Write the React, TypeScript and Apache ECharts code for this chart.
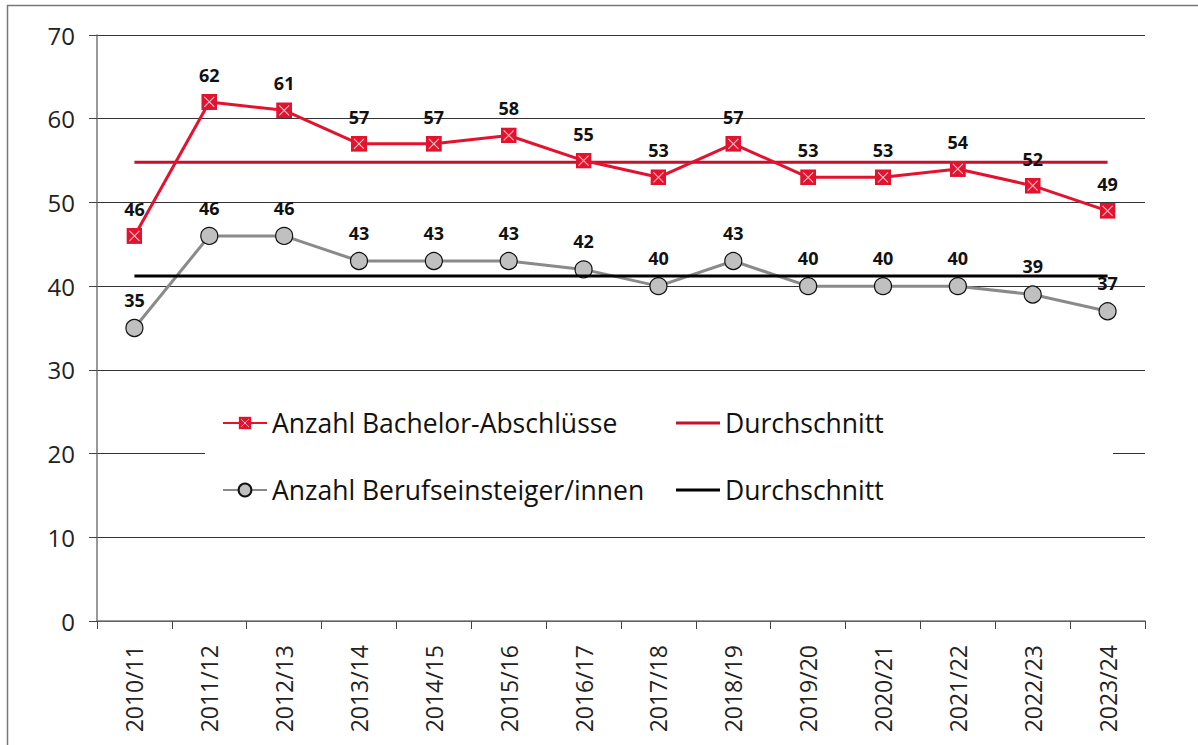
import React, { useEffect, useRef } from "react";
import * as echarts from "echarts";

// Academic years on the x axis
const years = [
  "2010/11", "2011/12", "2012/13", "2013/14", "2014/15", "2015/16", "2016/17",
  "2017/18", "2018/19", "2019/20", "2020/21", "2021/22", "2022/23", "2023/24",
];

// Number of bachelor degrees per year
const bachelor = [46, 62, 61, 57, 57, 58, 55, 53, 57, 53, 53, 54, 52, 49];

// Number of career starters per year
const starters = [35, 46, 46, 43, 43, 43, 42, 40, 43, 40, 40, 40, 39, 37];

const yTicks = { min: 0, max: 70, interval: 10 };

const mean = (a: number[]) => a.reduce((s, v) => s + v, 0) / a.length;
const bachelorAvg = mean(bachelor);
const startersAvg = mean(starters);

const RED = "#e3132f";
const RED_DARK = "#c4122d";
const FONT = "'Open Sans', 'Noto Sans', sans-serif";

// red square with a light cross, used as the marker of the bachelor series
const crossSquareSvg =
  "<svg xmlns='http://www.w3.org/2000/svg' width='32' height='32' viewBox='0 0 32 32'>" +
  "<rect width='32' height='32' fill='" + RED + "'/>" +
  "<path d='M6 6L26 26M26 6L6 26' stroke='#f7c4cb' stroke-width='2.2'/></svg>";
const crossSquare = "image://data:image/svg+xml;charset=utf-8," + encodeURIComponent(crossSquareSvg);

export default function App() {
  const ref = useRef<HTMLDivElement>(null);

  useEffect(() => {
    document.body.style.margin = "0";
    if (!ref.current) return;
    const chart = echarts.init(ref.current, undefined, { renderer: "svg" });

    const labelStyle = {
      show: true,
      position: "top" as const,
      distance: 10,
      color: "#111",
      fontFamily: FONT,
      fontWeight: "bold" as const,
      fontSize: 18,
    };

    const legendText = { fontFamily: FONT, fontSize: 26.5, color: "#111", lineHeight: 30 };
    const legendBase = {
      orient: "horizontal" as const,
      padding: 0,
      itemWidth: 44,
      itemHeight: 16,
      itemGap: 0,
      textStyle: legendText,
      formatter: (name: string) => (name.startsWith("Durchschnitt") ? "Durchschnitt" : name),
    };
    // average lines get a plain bar as legend key
    const lineKey = { ...legendBase, itemHeight: 3, icon: "rect" };

    chart.setOption({
      animation: false,
      grid: { left: 97, right: 53, top: 35, bottom: 124, containLabel: false },
      graphic: [
        {
          type: "rect",
          shape: { x: 7.5, y: 5.5, width: 1300, height: 900 },
          style: { fill: "none", stroke: "#777", lineWidth: 1.5 },
          silent: true,
          z: 0,
        },
        {
          type: "rect",
          shape: { x: 205, y: 380, width: 908, height: 146 },
          style: { fill: "#fff" },
          silent: true,
          z: 1,
        },
      ],
      legend: [
        { ...legendBase, data: ["Anzahl Bachelor-Abschlüsse"], left: 222, top: 408 },
        { ...lineKey, data: ["Durchschnitt Bachelor"], left: 676, top: 408 },
        { ...legendBase, data: ["Anzahl Berufseinsteiger/innen"], left: 222, top: 475 },
        { ...lineKey, data: ["Durchschnitt Berufseinsteiger"], left: 676, top: 475 },
      ],
      xAxis: {
        type: "category",
        data: years,
        boundaryGap: true,
        axisLine: { lineStyle: { color: "#777", width: 1.5 } },
        axisTick: { show: true, length: 8, lineStyle: { color: "#444" } },
        axisLabel: {
          rotate: 90,
          margin: 24,
          interval: 0,
          color: "#222",
          fontFamily: FONT,
          fontSize: 23,
        },
        splitLine: { show: false },
      },
      yAxis: {
        type: "value",
        ...yTicks,
        axisLine: { show: true, lineStyle: { color: "#777", width: 1.5 } },
        axisTick: { show: true, length: 8, inside: false, lineStyle: { color: "#444" } },
        axisLabel: { margin: 22, color: "#222", fontFamily: FONT, fontSize: 24 },
        splitLine: { show: true, lineStyle: { color: "#333", width: 1 } },
      },
      series: [
        {
          name: "Anzahl Bachelor-Abschlüsse",
          type: "line",
          data: bachelor,
          symbol: crossSquare,
          symbolSize: 16,
          lineStyle: { color: RED, width: 3 },
          itemStyle: { color: RED },
          label: labelStyle,
          z: 3,
        },
        {
          name: "Durchschnitt Bachelor",
          type: "line",
          data: years.map(() => bachelorAvg),
          showSymbol: false,
          symbol: "none",
          lineStyle: { color: RED_DARK, width: 3 },
          itemStyle: { color: RED_DARK },
          z: 2,
        },
        {
          name: "Anzahl Berufseinsteiger/innen",
          type: "line",
          data: starters,
          symbol: "circle",
          symbolSize: 17,
          lineStyle: { color: "#8a8a8a", width: 3 },
          itemStyle: { color: "#c0c0c0", borderColor: "#111", borderWidth: 1.2 },
          label: labelStyle,
          z: 3,
        },
        {
          name: "Durchschnitt Berufseinsteiger",
          type: "line",
          data: years.map(() => startersAvg),
          showSymbol: false,
          symbol: "none",
          lineStyle: { color: "#000", width: 3 },
          itemStyle: { color: "#000" },
          z: 4,
        },
      ],
    });

    return () => chart.dispose();
  }, []);

  return <div ref={ref} style={{ width: 1198, height: 745 }} />;
}
